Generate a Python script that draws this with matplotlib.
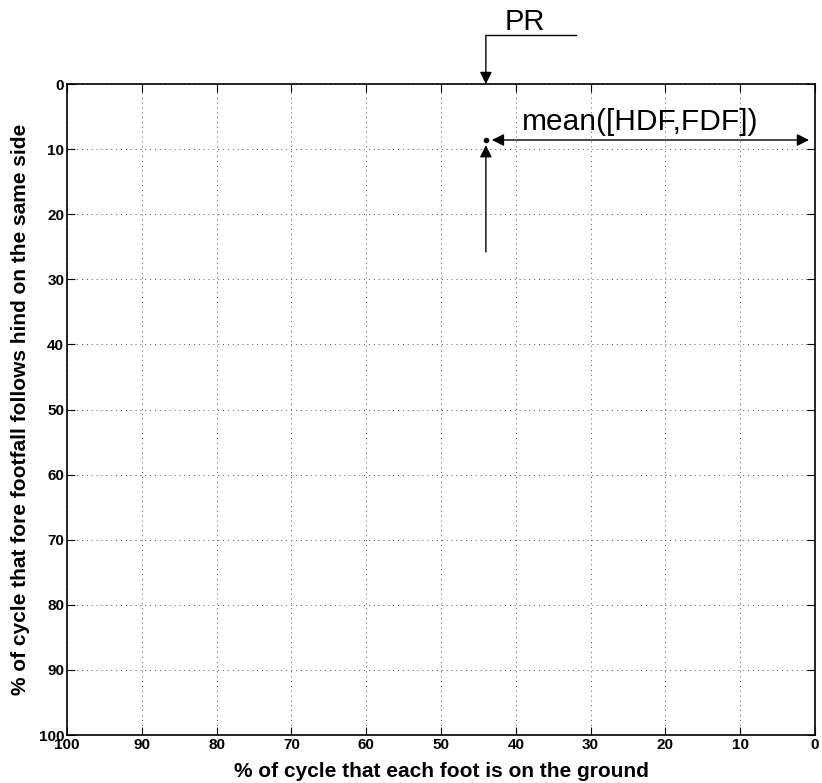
import matplotlib.pyplot as plt

plt.rcParams['font.family'] = ['Liberation Sans', 'DejaVu Sans']

# ticks / limits
x_ticks = [100, 90, 80, 70, 60, 50, 40, 30, 20, 10, 0]
y_ticks = [0, 10, 20, 30, 40, 50, 60, 70, 80, 90, 100]

# point: PR vs mean([HDF,FDF])
pr_x = 44
mean_y = 8.6

fig = plt.figure(figsize=(8.22, 7.83), dpi=100)
ax = fig.add_axes([0.0815, 0.0613, 0.9100, 0.8314])

ax.set_xlim(100, 0)
ax.set_ylim(100, 0)
ax.set_xticks(x_ticks)
ax.set_yticks(y_ticks)
ax.grid(True, linestyle=(0, (1, 4)), color='#555555', linewidth=0.7)
ax.tick_params(direction='in', top=True, right=True, length=6, width=0.8,
               labelsize=11, pad=2)
for lab in ax.get_xticklabels() + ax.get_yticklabels():
    lab.set_fontweight('bold')
for s in ax.spines.values():
    s.set_linewidth(1.2)

ax.set_xlabel('% of cycle that each foot is on the ground', fontsize=15,
              fontweight='bold', labelpad=7)
ax.set_ylabel('% of cycle that fore footfall follows hind on the same side',
              fontsize=15, fontweight='bold', labelpad=6)

ax.plot([pr_x], [mean_y], 'k.', markersize=6)

arrow = dict(arrowstyle='-|>', color='k', lw=1, mutation_scale=18,
             shrinkA=0, shrinkB=0)
darrow = dict(arrowstyle='<|-|>', color='k', lw=1, mutation_scale=18,
              shrinkA=0, shrinkB=0)

# PR arrow from above
ax.plot([pr_x, 32], [-7.5, -7.5], color='k', lw=1, clip_on=False)
ax.annotate('', xy=(pr_x, 0), xytext=(pr_x, -7.5), arrowprops=arrow,
            annotation_clip=False)
ax.text(38.8, -9.5, 'PR', fontsize=21, ha='center', va='center')

# vertical arrow up to the point
ax.annotate('', xy=(pr_x, 9.4), xytext=(pr_x, 25.8), arrowprops=arrow)

# horizontal double arrow to the right edge
ax.annotate('', xy=(43.2, 8.6), xytext=(0.8, 8.6), arrowprops=darrow)
ax.text(23.4, 5.8, 'mean([HDF,FDF])', fontsize=21.5, ha='center', va='center')

fig.savefig('out.png', dpi=100)
